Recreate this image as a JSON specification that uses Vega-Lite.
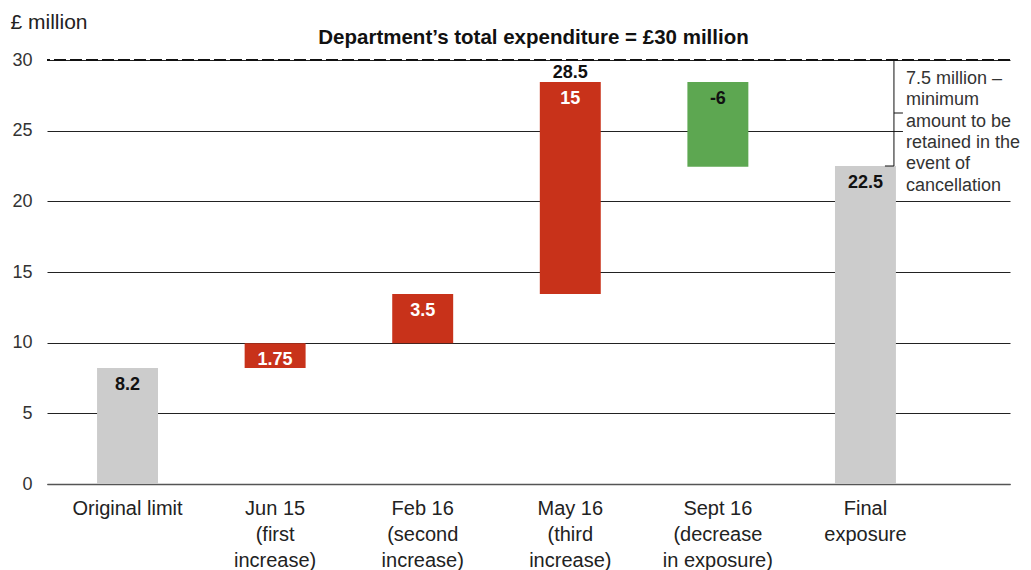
{
  "$schema": "https://vega.github.io/schema/vega-lite/v6.json",
  "width": 963,
  "height": 424,
  "autosize": {"type": "none"},
  "padding": {"left": 47, "top": 60, "right": 21, "bottom": 86},
  "background": "white",
  "config": {"font": "Liberation Sans", "view": {"stroke": null}},
  "title": {"text": "Department’s total expenditure = £30 million", "fontSize": 20.5, "fontWeight": "bold", "color": "#111", "anchor": "middle", "offset": 0, "dx": 5, "dy": 37},
  "datasets": {
    "steps": [
      {"cat": "Original limit", "low": 0, "high": 8.2, "type": "total", "label": "8.2"},
      {"cat": "Jun 15\n(first\nincrease)", "low": 8.2, "high": 9.95, "type": "increase", "label": "1.75"},
      {"cat": "Feb 16\n(second\nincrease)", "low": 9.95, "high": 13.45, "type": "increase", "label": "3.5"},
      {"cat": "May 16\n(third\nincrease)", "low": 13.45, "high": 28.45, "type": "increase", "label": "15"},
      {"cat": "Sept 16\n(decrease\nin exposure)", "low": 22.45, "high": 28.45, "type": "decrease", "label": "-6"},
      {"cat": "Final\nexposure", "low": 0, "high": 22.5, "type": "total", "label": "22.5"}
    ],
    "totals": [
      {"cat": "May 16\n(third\nincrease)", "value": 28.45, "label": "28.5"}
    ],
    "limit": [{"level": 30}],
    "bracket": [
      {"cat": "Final\nexposure", "top": 30, "bottom": 22.5, "mid": 26.25, "note": "7.5 million –\nminimum\namount to be\nretained in the\nevent of\ncancellation"}
    ]
  },
  "layer": [
    {
      "data": {"name": "steps"},
      "mark": {"type": "bar"},
      "encoding": {
        "x": {
          "field": "cat", "type": "nominal",
          "scale": {
            "domain": ["Original limit", "Jun 15\n(first\nincrease)", "Feb 16\n(second\nincrease)", "May 16\n(third\nincrease)", "Sept 16\n(decrease\nin exposure)", "Final\nexposure"],
            "paddingInner": 0.587, "paddingOuter": 0.556, "align": 0.305
          },
          "axis": {
            "title": null, "labelExpr": "split(datum.label, '\\n')", "labelFontSize": 20, "labelColor": "#222",
            "labelLineHeight": 26, "labelPadding": 14, "labelAngle": 0, "labelLimit": 0,
            "ticks": false, "domainColor": "#555", "domainWidth": 1.5, "grid": false
          }
        },
        "y": {
          "field": "low", "type": "quantitative",
          "scale": {"domain": [0, 30], "nice": false},
          "axis": {
            "title": "£ million", "titleAngle": 0, "titleAlign": "left", "titleBaseline": "alphabetic",
            "titleX": -37, "titleY": -32, "titleFontSize": 21, "titleFontWeight": "normal", "titleColor": "#222",
            "values": [0, 5, 10, 15, 20, 25, 30], "domain": false, "ticks": false, "labelPadding": 15,
            "labelFontSize": 18, "labelColor": "#333", "gridColor": "#222", "gridWidth": 1
          }
        },
        "y2": {"field": "high"},
        "color": {
          "field": "type", "type": "nominal",
          "scale": {"domain": ["total", "increase", "decrease"], "range": ["#cccccc", "#c8321a", "#5da751"]},
          "legend": null
        }
      }
    },
    {
      "data": {"name": "steps"},
      "mark": {"type": "text", "fontSize": 18, "fontWeight": "bold", "baseline": "middle", "dy": 17},
      "encoding": {
        "x": {"field": "cat", "type": "nominal"},
        "y": {"field": "high", "type": "quantitative"},
        "text": {"field": "label"},
        "color": {"condition": {"test": "datum.type === 'increase'", "value": "#ffffff"}, "value": "#111111"}
      }
    },
    {
      "data": {"name": "totals"},
      "mark": {"type": "text", "fontSize": 18, "fontWeight": "bold", "baseline": "alphabetic", "dy": -4, "color": "#111"},
      "encoding": {
        "x": {"field": "cat", "type": "nominal"},
        "y": {"field": "value", "type": "quantitative"},
        "text": {"field": "label"}
      }
    },
    {
      "data": {"name": "bracket"},
      "mark": {"type": "rect", "fill": "white", "xOffset": 7, "x2Offset": 140},
      "encoding": {
        "x": {"field": "cat", "type": "nominal", "bandPosition": 1},
        "x2": {"field": "cat", "bandPosition": 1},
        "y": {"datum": 29.6, "type": "quantitative"},
        "y2": {"datum": 20.45}
      }
    },
    {
      "data": {"name": "limit"},
      "mark": {"type": "rule", "color": "#111", "strokeWidth": 2, "strokeDash": [12, 4]},
      "encoding": {"y": {"field": "level", "type": "quantitative"}}
    },
    {
      "data": {"name": "bracket"},
      "mark": {"type": "rule", "color": "#111", "strokeWidth": 1, "xOffset": -2},
      "encoding": {
        "x": {"field": "cat", "type": "nominal", "bandPosition": 1},
        "y": {"field": "top", "type": "quantitative"},
        "y2": {"field": "bottom"}
      }
    },
    {
      "data": {"name": "bracket"},
      "mark": {"type": "rule", "color": "#111", "strokeWidth": 1, "xOffset": -11, "x2Offset": -2},
      "encoding": {
        "x": {"field": "cat", "type": "nominal", "bandPosition": 1},
        "x2": {"field": "cat", "bandPosition": 1},
        "y": {"field": "bottom", "type": "quantitative"}
      }
    },
    {
      "data": {"name": "bracket"},
      "mark": {"type": "rule", "color": "#111", "strokeWidth": 1, "xOffset": -2, "x2Offset": 7},
      "encoding": {
        "x": {"field": "cat", "type": "nominal", "bandPosition": 1},
        "x2": {"field": "cat", "bandPosition": 1},
        "y": {"field": "mid", "type": "quantitative"}
      }
    },
    {
      "data": {"name": "bracket"},
      "mark": {"type": "text", "align": "left", "baseline": "top", "dx": 10, "dy": 10, "fontSize": 18, "lineHeight": 21.3, "lineBreak": "\n", "color": "#333"},
      "encoding": {
        "x": {"field": "cat", "type": "nominal", "bandPosition": 1},
        "y": {"field": "top", "type": "quantitative"},
        "text": {"field": "note"}
      }
    }
  ]
}
